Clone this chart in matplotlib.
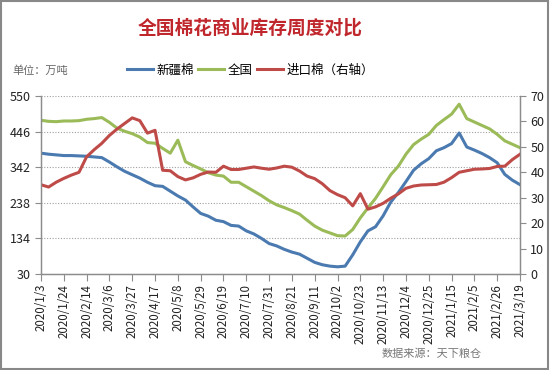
import numpy as np
import pandas as pd
import matplotlib
matplotlib.use('Agg')
import matplotlib.pyplot as plt
from matplotlib.patches import Rectangle

plt.rcParams['font.family'] = ['Noto Sans CJK SC', 'DejaVu Sans']

# 周度数据 2020/1/3 - 2021/3/19
dates = pd.date_range('2020-01-03', periods=64, freq='7D')
date_labels = [f'{d.year}/{d.month}/{d.day}' for d in dates]

xinjiang = [383, 380, 378, 376, 376, 375, 374, 372, 370, 357,
            343, 330, 320, 310, 298, 288, 286, 272, 258, 246,
            226, 207, 199, 187, 183, 172, 170, 156, 147, 134,
            119, 112, 102, 94, 88, 76, 64, 57, 53, 51,
            53, 86, 124, 156, 168, 200, 240, 268, 300, 333,
            352, 367, 390, 399, 411, 442, 401, 392, 382, 370,
            355, 321, 304, 291]
quanguo = [479, 476, 475, 477, 477, 478, 482, 484, 487, 473,
           456, 447, 440, 430, 414, 412, 397, 383, 421, 358,
           347, 337, 326, 319, 316, 298, 298, 285, 272, 259,
           244, 232, 224, 215, 205, 187, 170, 158, 150, 142,
           141, 160, 194, 223, 251, 285, 320, 345, 380, 408,
           424, 438, 464, 481, 497, 526, 484, 474, 464, 454,
           438, 419, 409, 399]
jinkou = [35.1, 34.2, 36.1, 37.6, 38.9, 40.0, 46.1, 48.9, 51.4, 54.5,
          57.0, 59.2, 61.4, 60.3, 55.4, 56.5, 40.8, 40.6, 38.3, 37.0,
          37.8, 39.2, 40.1, 40.0, 42.4, 41.1, 41.1, 41.6, 42.1, 41.6,
          41.2, 41.7, 42.4, 42.0, 40.5, 38.5, 37.5, 35.5, 32.8, 31.2,
          30.0, 26.8, 31.6, 25.5, 26.4, 27.8, 29.8, 31.5, 33.7, 34.6,
          35.0, 35.1, 35.2, 36.1, 37.9, 40.0, 40.6, 41.2, 41.3, 41.5,
          42.3, 42.4, 45.0, 47.1]

left_ticks = [30, 134, 238, 342, 446, 550]
right_ticks = [0, 10, 20, 30, 40, 50, 60, 70]

c_blue = '#4A7AB0'
c_green = '#9BBB59'
c_red = '#BE4B48'
c_axis = '#8C8C8C'

x = np.arange(len(dates))

fig = plt.figure(figsize=(5.5, 3.7), dpi=100)
ax = fig.add_axes([41/550, 1-274/370, (520-41)/550, (274-96)/370])
ax2 = ax.twinx()

l1, = ax.plot(x, xinjiang, color=c_blue, lw=2.2, label='新疆棉')
l2, = ax.plot(x, quanguo, color=c_green, lw=2.2, label='全国')
l3, = ax2.plot(x, jinkou, color=c_red, lw=2.2, label='进口棉（右轴）')

ax.set_xlim(0, len(x) - 1)
ax.set_ylim(30, 550)
ax2.set_ylim(0, 70)
ax.set_yticks(left_ticks)
ax2.set_yticks(right_ticks)
ax.set_xticks(x[::3])
ax.set_xticklabels(date_labels[::3], rotation=90, fontsize=8.3, color='#222')
ax.tick_params(axis='y', labelsize=9, colors=c_axis, labelcolor='#222', length=4)
ax2.tick_params(axis='y', labelsize=9, colors=c_axis, labelcolor='#222', length=4)
ax.tick_params(axis='x', colors=c_axis, labelcolor='#222', length=5, pad=2)

ax.grid(axis='y', linestyle=(0, (1, 1.5)), color='#A0A0A0', lw=0.8)
for a in (ax, ax2):
    a.spines['top'].set_visible(False)
    for s in ('left', 'right', 'bottom'):
        a.spines[s].set_color(c_axis)
        a.spines[s].set_linewidth(0.9)

fig.text(0.455, 0.924, '全国棉花商业库存周度对比', ha='center', va='center',
         fontsize=13.5, fontweight='bold', color='#C0272D')
fig.text(0.022, 0.81, '单位：万吨', ha='left', va='center', fontsize=8, color='#666')
fig.legend(handles=[l1, l2, l3], loc='center', bbox_to_anchor=(0.455, 0.81),
           ncol=3, frameon=False, fontsize=9, handlelength=2.1,
           handletextpad=0.25, columnspacing=0.35)
fig.text(0.785, 0.043, '数据来源：天下粮仓', ha='center', va='center',
         fontsize=8, color='#777', style='italic')

fig.patches.append(Rectangle((0.002, 0.003), 0.995, 0.994, transform=fig.transFigure,
                             fill=False, edgecolor='#888', lw=1.5))

fig.savefig('out.png', dpi=100)
